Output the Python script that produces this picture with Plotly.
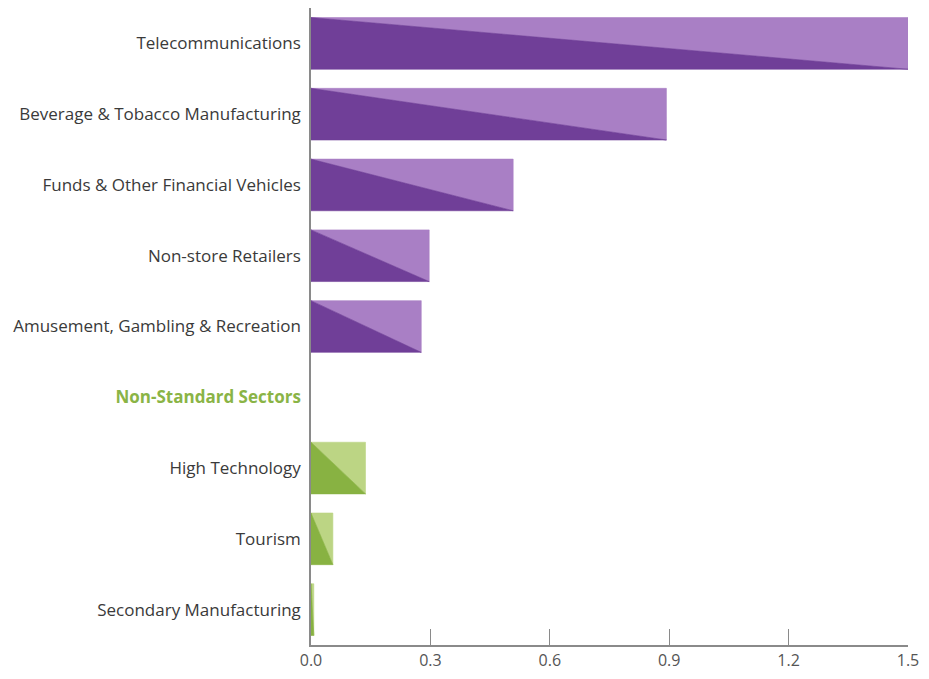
import plotly.graph_objects as go

categories = [
    "Telecommunications",
    "Beverage & Tobacco Manufacturing",
    "Funds & Other Financial Vehicles",
    "Non-store Retailers",
    "Amusement, Gambling & Recreation",
    "Non-Standard Sectors",
    "High Technology",
    "Tourism",
    "Secondary Manufacturing",
]
values = [1.5, 0.893, 0.508, 0.297, 0.277, None, 0.137, 0.055, 0.007]
groups = ["std", "std", "std", "std", "std", "header", "ns", "ns", "ns"]
x_ticks = [0.0, 0.3, 0.6, 0.9, 1.2, 1.5]
x_tick_labels = ["0.0", "0.3", "0.6", "0.9", "1.2", "1.5"]

dark = {"std": "#703f98", "ns": "#88b242"}
light = {"std": "#a97fc5", "ns": "#bcd584"}
header_color = "#8ab446"
half = 0.365

fig = go.Figure()
for i, (v, g) in enumerate(zip(values, groups)):
    if v is None:
        continue
    top, bot = i - half, i + half
    # light upper-right triangle
    fig.add_trace(go.Scatter(
        x=[0, v, v, 0], y=[top, top, bot, top], mode="lines",
        fill="toself", fillcolor=light[g], line=dict(width=0.6, color=light[g]),
        hoverinfo="skip", showlegend=False))
    # dark lower-left triangle
    fig.add_trace(go.Scatter(
        x=[0, 0, v, 0], y=[top, bot, bot, top], mode="lines",
        fill="toself", fillcolor=dark[g], line=dict(width=0.6, color=dark[g]),
        hoverinfo="skip", showlegend=False))

ticktext = []
for c, g in zip(categories, groups):
    if g == "header":
        ticktext.append(f"<span style='color:{header_color}'><b>{c}</b></span>")
    else:
        ticktext.append(c)

fig.update_layout(
    width=913, height=663,
    margin=dict(l=303, r=13, t=0, b=26),
    paper_bgcolor="white", plot_bgcolor="white",
    font=dict(family="Open Sans, sans-serif", size=17, color="#3a3a3a"),
    xaxis=dict(
        range=[0, 1.5], tickvals=x_ticks, ticktext=x_tick_labels,
        showgrid=False, zeroline=False, showline=True, linecolor="#8a8a8a",
        linewidth=1.5, ticks="inside", ticklen=16, tickcolor="#8a8a8a",
        tickwidth=1, tickfont=dict(size=16, color="#555555"),
        automargin=False, ticklabelstandoff=0,
    ),
    yaxis=dict(
        range=[8.5, -0.5], tickvals=list(range(len(categories))), ticktext=ticktext,
        showgrid=False, zeroline=False, showline=True, linecolor="#8a8a8a",
        linewidth=1.5, ticks="", ticklabelstandoff=5,
        tickfont=dict(size=17, color="#3a3a3a"), automargin=False,
    ),
)

fig.write_html("out.html")
